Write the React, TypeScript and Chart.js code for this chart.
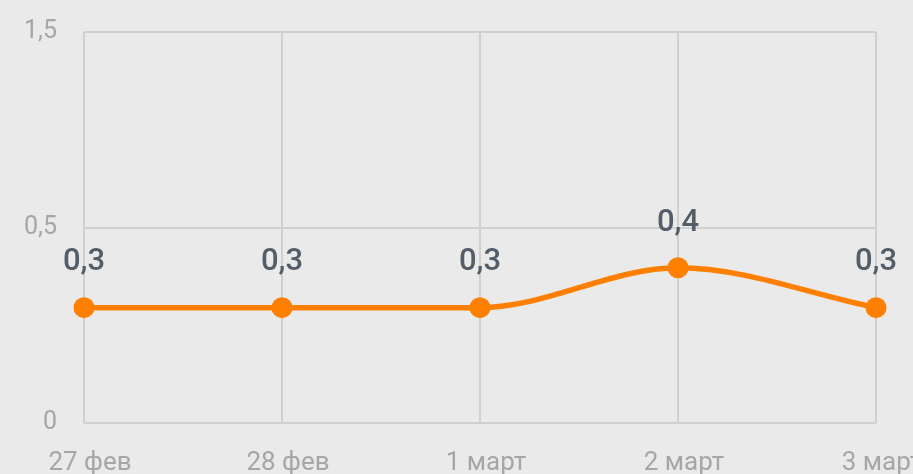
import React, { useEffect, useRef } from "react";
import { Chart, registerables } from "chart.js";

Chart.register(...registerables);

const categories = ["27 фев", "28 фев", "1 март", "2 март", "3 март"];
const values = [0.295, 0.295, 0.295, 0.397, 0.295];
const valueLabels = ["0,3", "0,3", "0,3", "0,4", "0,3"];
const yTickValues = [0, 0.5, 1];
const yTickLabels = ["0", "0,5", "1,5"];

const bgPlugin = {
  id: "bg",
  beforeDraw(chart: any) {
    const { ctx, width, height } = chart;
    ctx.save();
    ctx.fillStyle = "#eaeaea";
    ctx.fillRect(0, 0, width, height);
    ctx.restore();
  },
};

const labelPlugin = {
  id: "valueLabels",
  afterDatasetsDraw(chart: any) {
    const { ctx } = chart;
    const meta = chart.getDatasetMeta(0);
    ctx.save();
    ctx.font = "500 31px Roboto";
    ctx.fillStyle = "#545e68";
    ctx.textAlign = "center";
    ctx.textBaseline = "middle";
    meta.data.forEach((pt: any, i: number) => {
      ctx.fillText(valueLabels[i], pt.x, pt.y - 45);
    });
    ctx.restore();
  },
};

export default function App() {
  const ref = useRef<HTMLCanvasElement>(null);
  useEffect(() => {
    const chart = new Chart(ref.current!, {
      type: "line",
      data: {
        labels: categories,
        datasets: [
          {
            data: values,
            borderColor: "#ff8000",
            backgroundColor: "#ff8000",
            borderWidth: 5.5,
            pointRadius: 10.5,
            pointHoverRadius: 10.5,
            pointBackgroundColor: "#ff8000",
            pointBorderWidth: 0,
            cubicInterpolationMode: "monotone",
            clip: false as any,
          },
        ],
      },
      options: {
        animation: false,
        responsive: false,
        layout: { padding: { top: 32, right: 37, left: 0, bottom: 0 } },
        plugins: { legend: { display: false }, tooltip: { enabled: false } },
        scales: {
          x: {
            offset: false,
            grid: { color: "#d0d0d0", lineWidth: 2, drawTicks: false },
            border: { display: false },
            ticks: {
              color: "#a6a6a6",
              font: { family: "Roboto", size: 26 },
              padding: 25,
              labelOffset: 6,
              maxRotation: 0,
              autoSkip: false,
            },
            afterFit(scale: any) {
              scale.height = 51;
              scale.paddingLeft = 0;
              scale.paddingRight = 0;
            },
          },
          y: {
            min: 0,
            max: 1,
            afterBuildTicks(scale: any) {
              scale.ticks = yTickValues.map((v) => ({ value: v }));
            },
            grid: { color: "#d0d0d0", lineWidth: 2, drawTicks: false },
            border: { display: false },
            ticks: {
              color: "#a6a6a6",
              font: { family: "Roboto", size: 25 },
              padding: 27,
              callback: (v: any) => {
                const i = yTickValues.indexOf(Number(v));
                return i >= 0 ? yTickLabels[i] : "";
              },
            },
            afterFit(scale: any) {
              scale.width = 84;
              scale.paddingTop = 0;
              scale.paddingBottom = 0;
            },
          },
        },
      },
      plugins: [bgPlugin, labelPlugin],
    });
    return () => chart.destroy();
  }, []);
  return (
    <div style={{ position: "fixed", left: 0, top: 0, width: 913, height: 474 }}>
      <canvas ref={ref} width={913} height={474} />
    </div>
  );
}
